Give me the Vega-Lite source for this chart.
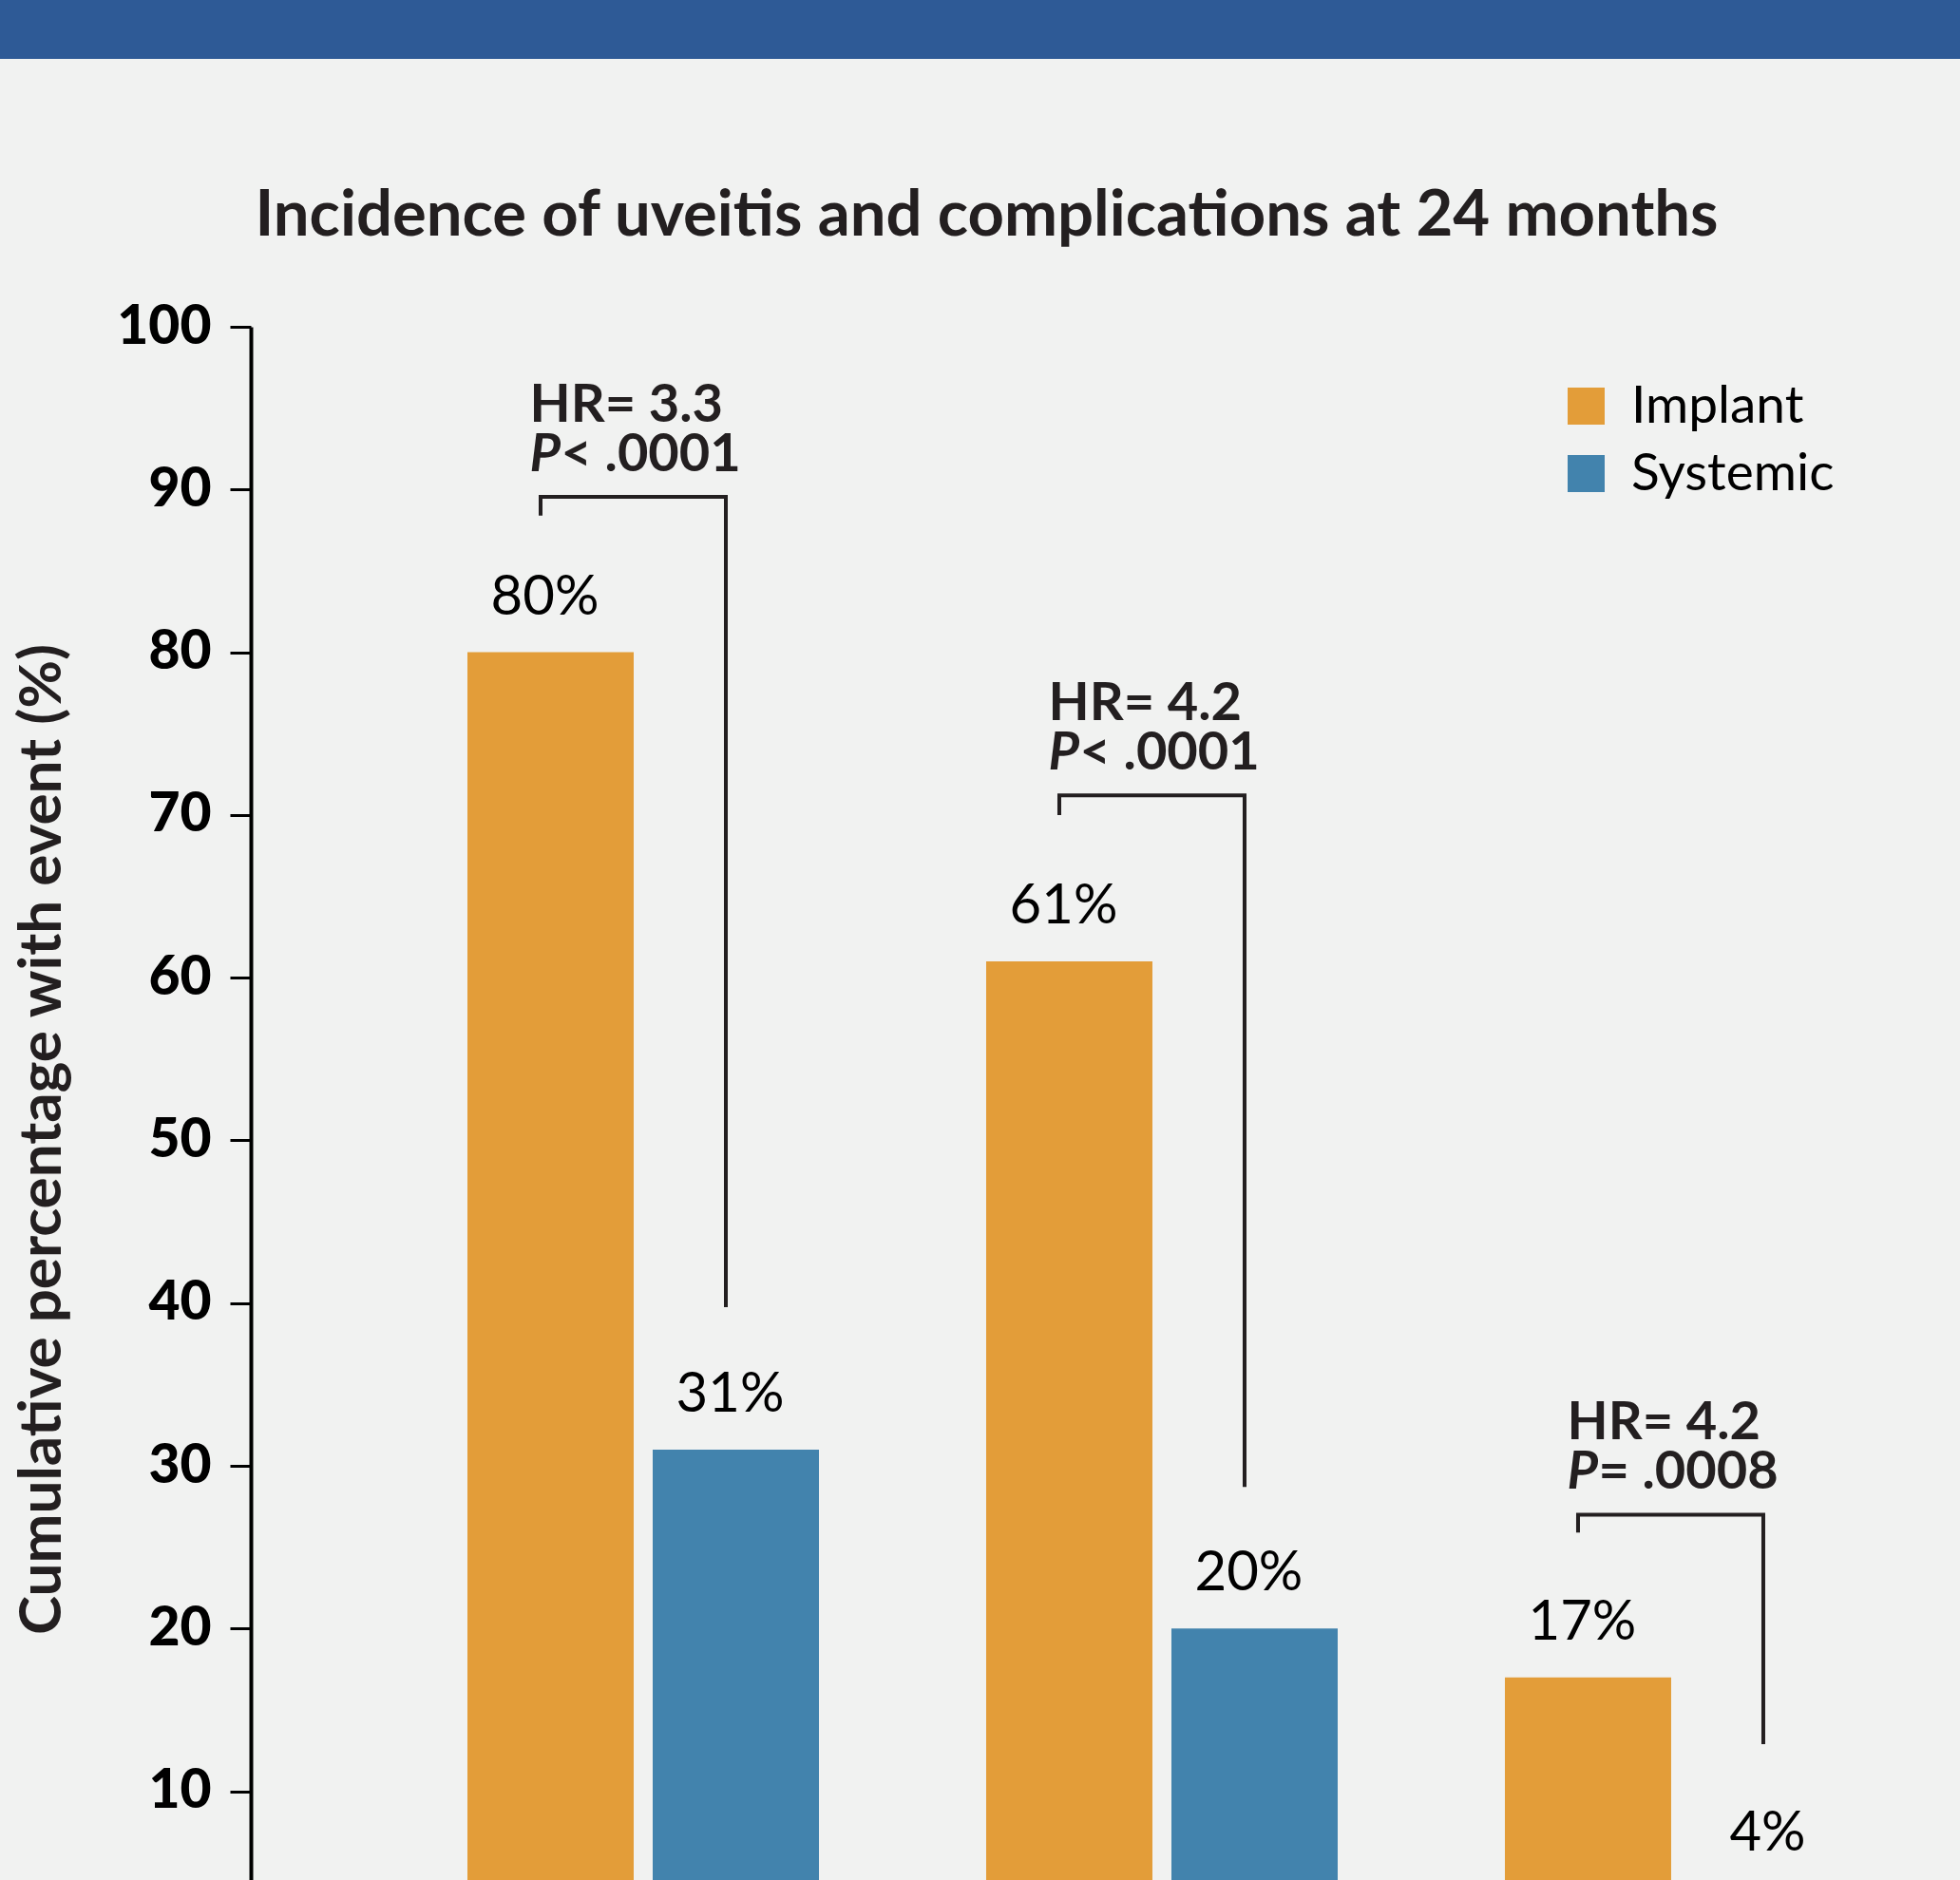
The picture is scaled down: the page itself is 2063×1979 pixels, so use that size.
{
  "$schema": "https://vega.github.io/schema/vega-lite/v6.json",
  "background": "#f1f2f1",
  "padding": 0,
  "autosize": {"type": "pad"},
  "spacing": 132,
  "config": {"font": "Lato", "view": {"stroke": null}},
  "datasets": {
    "bars": [
      {"group": "Event 1", "series": "Implant", "value": 80, "label": "80%"},
      {"group": "Event 1", "series": "Systemic", "value": 31, "label": "31%"},
      {"group": "Event 2", "series": "Implant", "value": 61, "label": "61%"},
      {"group": "Event 2", "series": "Systemic", "value": 20, "label": "20%"},
      {"group": "Event 3", "series": "Implant", "value": 17, "label": "17%"},
      {"group": "Event 3", "series": "Systemic", "value": 4, "label": "4%"}
    ],
    "brackets": [
      {"group": "Event 1", "series": "Implant", "y": 88.4, "ord": 1},
      {"group": "Event 1", "series": "Implant", "y": 89.55, "ord": 2},
      {"group": "Event 1", "series": "Systemic", "y": 89.55, "ord": 3},
      {"group": "Event 1", "series": "Systemic", "y": 39.75, "ord": 4},
      {"group": "Event 2", "series": "Implant", "y": 70.0, "ord": 1},
      {"group": "Event 2", "series": "Implant", "y": 71.2, "ord": 2},
      {"group": "Event 2", "series": "Systemic", "y": 71.2, "ord": 3},
      {"group": "Event 2", "series": "Systemic", "y": 28.7, "ord": 4},
      {"group": "Event 3", "series": "Implant", "y": 25.9, "ord": 1},
      {"group": "Event 3", "series": "Implant", "y": 27.0, "ord": 2},
      {"group": "Event 3", "series": "Systemic", "y": 27.0, "ord": 3},
      {"group": "Event 3", "series": "Systemic", "y": 12.9, "ord": 4}
    ],
    "notes": [
      {"group": "Event 1", "series": "Implant", "top": 89.55, "hr": "HR= 3.3", "p": "P", "rest": "< .0001"},
      {"group": "Event 2", "series": "Implant", "top": 71.2, "hr": "HR= 4.2", "p": "P", "rest": "< .0001"},
      {"group": "Event 3", "series": "Implant", "top": 27.0, "hr": "HR= 4.2", "p": "P", "rest": "= .0008"}
    ]
  },
  "vconcat": [
    {
      "width": 2063,
      "height": 62,
      "view": {"fill": "#2e5a96", "stroke": null},
      "data": {"values": [{}]},
      "mark": {"type": "point", "opacity": 0},
      "encoding": {}
    },
    {
      "width": 2063,
      "height": 1641,
      "title": {
        "text": "Incidence of uveitis and complications at 24 months",
        "font": "Lato",
        "fontSize": 67,
        "fontWeight": 700,
        "color": "#231f20",
        "anchor": "middle",
        "baseline": "alphabetic",
        "offset": 0,
        "dx": 7
      },
      "resolve": {"scale": {"xOffset": "independent"}},
      "layer": [
        {
          "layer": [
            {
              "data": {"name": "bars"},
              "mark": {"type": "bar", "clip": true},
              "encoding": {
                "x": {
                  "field": "group",
                  "type": "nominal",
                  "scale": {"domain": ["Event 1", "Event 2", "Event 3"], "paddingInner": 0.32234, "paddingOuter": 0.5504, "align": 0.8186},
                  "axis": null
                },
                "xOffset": {
                  "field": "series",
                  "type": "nominal",
                  "scale": {"domain": ["Implant", "Systemic"], "paddingInner": 0.10256, "paddingOuter": 0}
                },
                "y": {
                  "field": "value",
                  "type": "quantitative",
                  "scale": {"domain": [4.2, 100], "zero": false, "nice": false},
                  "axis": {
                    "offset": -264,
                    "values": [10, 20, 30, 40, 50, 60, 70, 80, 90, 100],
                    "grid": false,
                    "domainColor": "#000000",
                    "domainWidth": 4,
                    "tickColor": "#000000",
                    "tickWidth": 3,
                    "tickSize": 22,
                    "labelFont": "Lato",
                    "labelFontSize": 57,
                    "labelFontWeight": 900,
                    "labelColor": "#000000",
                    "labelPadding": 20,
                    "title": "Cumulative percentage with event (%)",
                    "titleFont": "Lato",
                    "titleFontSize": 62,
                    "titleFontWeight": 700,
                    "titleColor": "#231f20",
                    "titlePadding": 46,
                    "titleY": 855
                  }
                },
                "color": {
                  "field": "series",
                  "type": "nominal",
                  "scale": {"domain": ["Implant", "Systemic"], "range": ["#e39d39", "#4283ad"]},
                  "legend": {
                    "orient": "none",
                    "legendX": 1642,
                    "legendY": 400,
                    "title": null,
                    "padding": 0,
                    "symbolType": "square",
                    "symbolSize": 1521,
                    "symbolStrokeWidth": 0,
                    "labelFont": "Lato",
                    "labelFontSize": 55,
                    "labelFontWeight": 400,
                    "labelColor": "#000000",
                    "labelOffset": 20,
                    "labelLimit": 600,
                    "rowPadding": 15
                  }
                }
              }
            },
            {
              "data": {"name": "bars"},
              "mark": {"type": "text", "font": "Lato", "fontSize": 58, "fontWeight": 400, "color": "#000000", "align": "center", "baseline": "alphabetic", "dx": -6, "dy": -40},
              "encoding": {
                "x": {"field": "group", "type": "nominal"},
                "xOffset": {"field": "series", "type": "nominal"},
                "y": {"field": "value", "type": "quantitative"},
                "text": {"field": "label"}
              }
            },
            {
              "data": {"name": "notes"},
              "mark": {"type": "text", "font": "Lato", "fontSize": 56, "fontWeight": 700, "color": "#231f20", "align": "left", "baseline": "alphabetic", "dx": -22, "dy": -79},
              "encoding": {
                "x": {"field": "group", "type": "nominal"},
                "xOffset": {"field": "series", "type": "nominal"},
                "y": {"field": "top", "type": "quantitative"},
                "text": {"field": "hr"}
              }
            },
            {
              "data": {"name": "notes"},
              "mark": {"type": "text", "font": "Lato", "fontSize": 56, "fontWeight": 700, "fontStyle": "italic", "color": "#231f20", "align": "left", "baseline": "alphabetic", "dx": -22, "dy": -27},
              "encoding": {
                "x": {"field": "group", "type": "nominal"},
                "xOffset": {"field": "series", "type": "nominal"},
                "y": {"field": "top", "type": "quantitative"},
                "text": {"field": "p"}
              }
            },
            {
              "data": {"name": "notes"},
              "mark": {"type": "text", "font": "Lato", "fontSize": 56, "fontWeight": 700, "color": "#231f20", "align": "left", "baseline": "alphabetic", "dx": 11, "dy": -27},
              "encoding": {
                "x": {"field": "group", "type": "nominal"},
                "xOffset": {"field": "series", "type": "nominal"},
                "y": {"field": "top", "type": "quantitative"},
                "text": {"field": "rest"}
              }
            }
          ]
        },
        {
          "data": {"name": "brackets"},
          "mark": {"type": "line", "color": "#231f20", "strokeWidth": 4, "strokeCap": "butt", "strokeJoin": "miter"},
          "encoding": {
            "x": {"field": "group", "type": "nominal"},
            "xOffset": {
              "field": "series",
              "type": "nominal",
              "scale": {"type": "point", "domain": ["Implant", "Systemic"], "padding": 0.4487, "align": 0.44}
            },
            "y": {"field": "y", "type": "quantitative"},
            "detail": {"field": "group"},
            "order": {"field": "ord", "type": "quantitative"}
          }
        }
      ]
    }
  ]
}
